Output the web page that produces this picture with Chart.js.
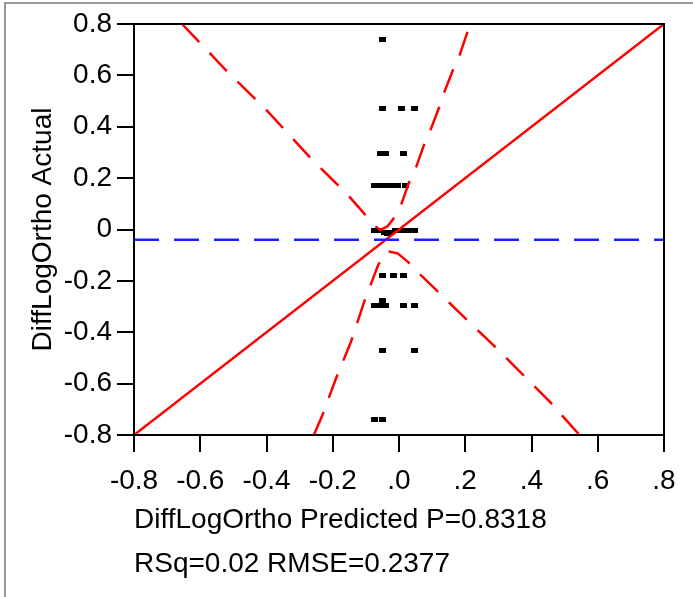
<!DOCTYPE html>
<html>
<head>
<meta charset="utf-8">
<script src="https://cdn.jsdelivr.net/npm/chart.js@4/dist/chart.umd.min.js"></script>
<style>
  html, body { margin: 0; padding: 0; background: #fff; }
  canvas { display: block; }
</style>
</head>
<body>
<canvas id="leverageChart" width="693" height="597"></canvas>
<script>
// tick values and their labels
const xTickVals = [-0.8, -0.6, -0.4, -0.2, 0, 0.2, 0.4, 0.6, 0.8];
const xTickLabels = ["-0.8", "-0.6", "-0.4", "-0.2", ".0", ".2", ".4", ".6", ".8"];
const yTickVals = [-0.8, -0.6, -0.4, -0.2, 0, 0.2, 0.4, 0.6, 0.8];
const yTickLabels = ["-0.8", "-0.6", "-0.4", "-0.2", "0", "0.2", "0.4", "0.6", "0.8"];

// observed points (predicted vs actual)
const predX = [-0.05,
    -0.05, 0.008, 0.046,
    -0.055, -0.042, 0.014,
    -0.073, -0.058, -0.04, -0.022, -0.005, 0.021,
    -0.074, -0.06, -0.045, -0.035, -0.025, -0.012, 0.002, 0.015, 0.03, 0.048,
    -0.05, -0.017, 0.014,
    -0.073, -0.06, -0.04, -0.05, 0.014, 0.046,
    -0.05, 0.046,
    -0.073, -0.05];
const actualY = [0.74,
    0.47, 0.47, 0.47,
    0.297, 0.297, 0.297,
    0.173, 0.173, 0.173, 0.173, 0.173, 0.173,
    -0.005, -0.005, -0.01, -0.015, -0.01, -0.005, -0.005, -0.005, -0.005, -0.005,
    -0.18, -0.18, -0.18,
    -0.295, -0.295, -0.295, -0.275, -0.295, -0.295,
    -0.47, -0.47,
    -0.74, -0.74];

// fit line and mean line
const fitX = [-0.8, 0.8];
const fitY = [-0.8, 0.8];
const meanX = [-0.8, 0.8];
const meanY = [-0.04, -0.04];

// confidence curves
const upperX = [-0.655, -0.52, -0.40, -0.27, -0.15, -0.07, -0.057, -0.035, -0.016, 0.008, 0.031, 0.052, 0.077, 0.095, 0.122, 0.137, 0.163, 0.183, 0.215];
const upperY = [0.8, 0.617, 0.465, 0.283, 0.128, 0.011, -0.002, 0.012, 0.044, 0.102, 0.186, 0.244, 0.335, 0.387, 0.478, 0.536, 0.621, 0.679, 0.8];
const lowerX = [-0.257, -0.231, -0.19, -0.145, -0.105, -0.063, -0.036, -0.004, 0.026, 0.057, 0.112, 0.198, 0.284, 0.370, 0.455, 0.545];
const lowerY = [-0.8, -0.722, -0.579, -0.437, -0.281, -0.138, -0.084, -0.093, -0.125, -0.167, -0.235, -0.343, -0.449, -0.560, -0.670, -0.8];

const toXY = (xs, ys) => xs.map((x, i) => ({ x: x, y: ys[i] }));

// small black dot marker
const dot = document.createElement('canvas');
dot.width = 7;
dot.height = 5;
const dctx = dot.getContext('2d');
dctx.fillStyle = '#000';
dctx.fillRect(0, 0, 7, 5);

Chart.defaults.font.family = 'Arial, "Liberation Sans", sans-serif';
Chart.defaults.color = '#000';

// panel frame and plot box
const framePlugin = {
    id: 'frame',
    beforeDraw(chart) {
        const ctx = chart.ctx;
        ctx.save();
        ctx.fillStyle = '#fff';
        ctx.fillRect(0, 0, chart.width, chart.height);
        ctx.strokeStyle = '#999';
        ctx.lineWidth = 2;
        ctx.beginPath();
        ctx.moveTo(5, chart.height);
        ctx.lineTo(5, 3);
        ctx.lineTo(chart.width, 3);
        ctx.stroke();
        ctx.restore();
    },
    afterDraw(chart) {
        const a = chart.chartArea;
        const ctx = chart.ctx;
        ctx.save();
        ctx.strokeStyle = '#000';
        ctx.lineWidth = 2;
        ctx.strokeRect(a.left, a.top, a.right - a.left, a.bottom - a.top);
        ctx.restore();
    }
};

new Chart(document.getElementById('leverageChart').getContext('2d'), {
    type: 'scatter',
    data: {
        datasets: [
            {
                label: 'Mean',
                type: 'line',
                data: toXY(meanX, meanY),
                borderColor: '#2020ff',
                borderWidth: 2.5,
                borderDash: [25, 15],
                pointRadius: 0,
                fill: false
            },
            {
                label: 'Fit',
                type: 'line',
                data: toXY(fitX, fitY),
                borderColor: '#ff0000',
                borderWidth: 2.5,
                pointRadius: 0,
                fill: false
            },
            {
                label: 'Upper',
                type: 'line',
                data: toXY(upperX, upperY),
                borderColor: '#ff0000',
                borderWidth: 2.5,
                borderDash: [25, 15],
                pointRadius: 0,
                tension: 0,
                fill: false
            },
            {
                label: 'Lower',
                type: 'line',
                data: toXY(lowerX, lowerY),
                borderColor: '#ff0000',
                borderWidth: 2.5,
                borderDash: [25, 15],
                pointRadius: 0,
                tension: 0,
                fill: false
            },
            {
                label: 'Points',
                data: toXY(predX, actualY),
                pointStyle: dot,
                pointRadius: 3,
                backgroundColor: '#000',
                borderColor: '#000'
            }
        ]
    },
    options: {
        responsive: false,
        animation: false,
        layout: { padding: { left: 0, top: 24, right: 29, bottom: 0 } },
        plugins: { legend: { display: false }, tooltip: { enabled: false } },
        scales: {
            x: {
                type: 'linear',
                min: -0.8,
                max: 0.8,
                afterBuildTicks: (scale) => { scale.ticks = xTickVals.map(v => ({ value: v })); },
                afterFit: (scale) => { scale.height = 162; },
                ticks: {
                    callback: (v, i) => xTickLabels[i],
                    font: { size: 28 },
                    padding: 12,
                    autoSkip: false,
                    maxRotation: 0
                },
                grid: { drawOnChartArea: false, tickLength: 17, color: '#000', lineWidth: 2 },
                border: { display: true, color: '#000', width: 2 },
                title: {
                    display: true,
                    align: 'start',
                    text: ['DiffLogOrtho Predicted P=0.8318', 'RSq=0.02 RMSE=0.2377'],
                    font: { size: 28, lineHeight: 1.6 },
                    padding: { top: 0, bottom: 10 }
                }
            },
            y: {
                type: 'linear',
                min: -0.8,
                max: 0.8,
                afterBuildTicks: (scale) => { scale.ticks = yTickVals.map(v => ({ value: v })); },
                afterFit: (scale) => { scale.width = 134; },
                ticks: {
                    callback: (v, i) => yTickLabels[i],
                    font: { size: 28 },
                    padding: 5,
                    autoSkip: false
                },
                grid: { drawOnChartArea: false, tickLength: 17, color: '#000', lineWidth: 2 },
                border: { display: true, color: '#000', width: 2 },
                title: {
                    display: true,
                    text: 'DiffLogOrtho Actual',
                    font: { size: 28 },
                    padding: { top: 26, bottom: 0 }
                }
            }
        }
    },
    plugins: [framePlugin]
});
</script>
</body>
</html>
